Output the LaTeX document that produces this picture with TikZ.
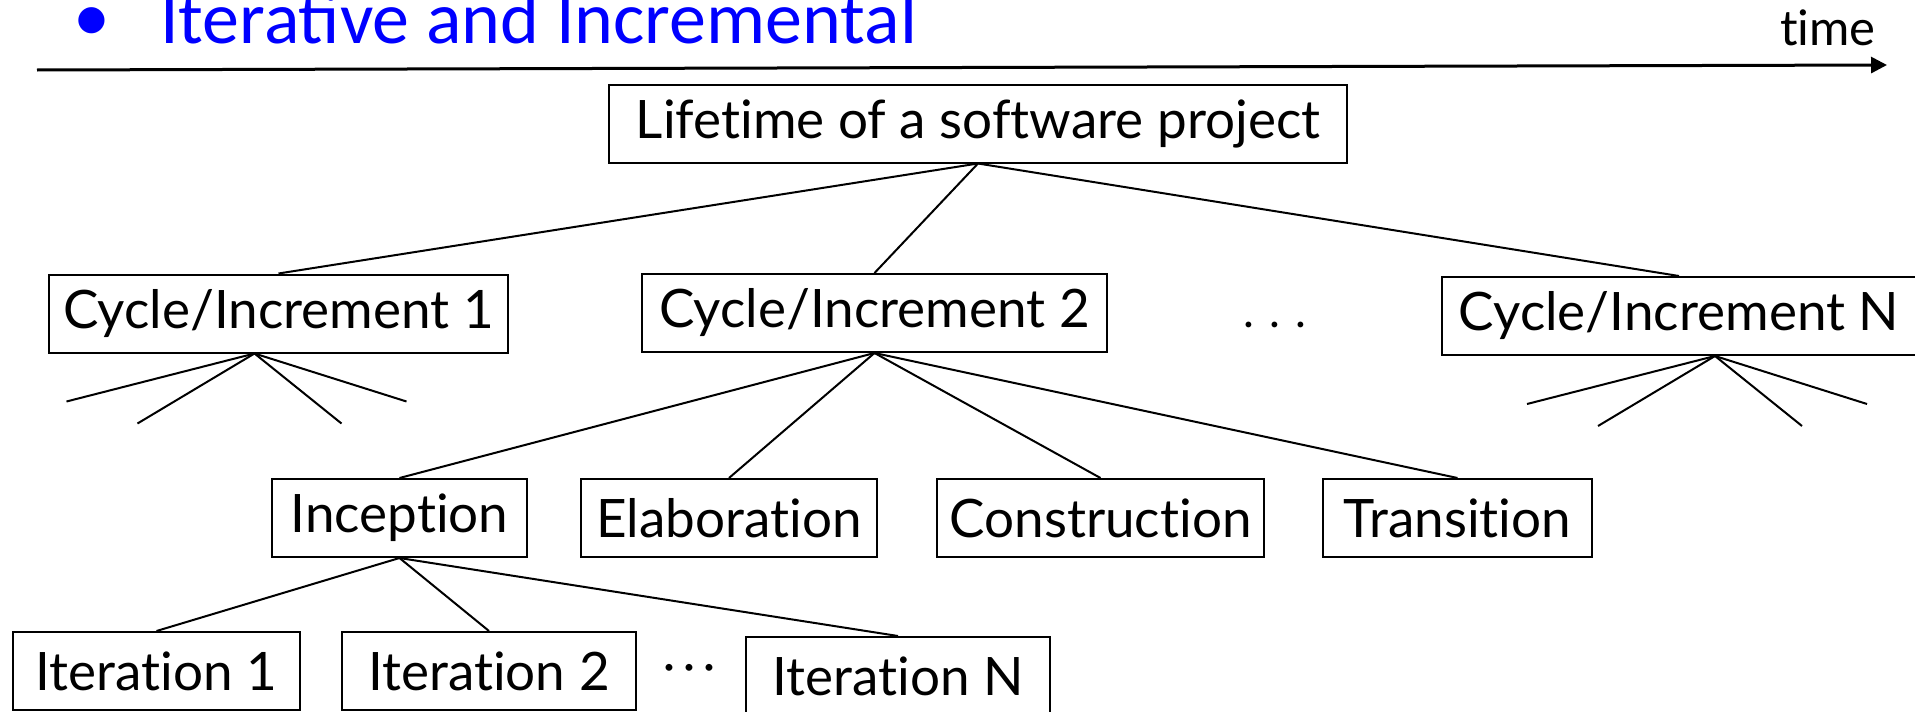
\documentclass[tikz,border=0pt]{standalone}
\usepackage{fontspec}
\setmainfont{Lato}[RawFeature={-liga;-calt;-dlig}]
\newfontfamily\headfont{Carlito}
\usetikzlibrary{arrows.meta,positioning}

\begin{document}
\begin{tikzpicture}[
      x=1pt,y=-1pt,
      mybox/.style={
         rectangle,
         draw=black,
         line width=2pt,
         inner sep=0pt,
         minimum height=78pt,
         font=\fontsize{53}{56}\selectfont},
      myline/.style={line width=2pt},
      myarrow/.style={-{Triangle[length=16pt,width=16pt]},line width=3pt},
      mytitle/.style={inner sep=0pt,text=blue,font=\headfont\fontsize{74}{80}\selectfont}
      ]
      \useasboundingbox (0,0) rectangle (1915,712);

      % heading and time axis
      \node[mytitle,anchor=base] (bullet) at (92,41) {•};
      \node[mytitle,anchor=base west] (head) at (160,43) {Iterative and Incremental};
      \coordinate (t0) at (37,70);
      \coordinate (t1) at (1887,65);
      \draw[myarrow] (t0) -- (t1);
      \node[anchor=base east,inner sep=0pt,font=\fontsize{49}{52}\selectfont] (timelbl) at (1876,45) {time};

      % the tree
      \node[mybox,minimum width=738pt] (life) at (978,123.5) {Lifetime of a software project};

      \node[mybox,minimum width=459pt] (cyc1) at (278.5,313.5) {Cycle/Increment 1};
      \node[mybox,minimum width=465pt] (cyc2) at (874.5,313) {Cycle/Increment 2};
      \node[anchor=base,font=\fontsize{46}{50}\selectfont] (dots1) at (1275,327) {.\,\,.\,\,.};
      \node[mybox,minimum width=474pt] (cycN) at (1679,316) {Cycle/Increment N};

      \node[mybox,minimum width=255pt] (incep) at (399.5,518) {Inception};
      \node[mybox,minimum width=296pt] (elab) at (729,518) {Elaboration};
      \node[mybox,minimum width=327pt] (constr) at (1100.5,518) {Construction};
      \node[mybox,minimum width=269pt] (trans) at (1457.5,518) {Transition};

      \node[mybox,minimum width=287pt] (it1) at (156.5,671) {Iteration 1};
      \node[mybox,minimum width=294pt] (it2) at (489,671) {Iteration 2};
      \node[font=\fontsize{46}{50}\selectfont] (dots2) at (689.5,673) {·\,·\,·};
      \node[mybox,minimum width=304pt] (itN) at (898,676) {Iteration N};

    \foreach \i/\j in {% parent/child
      life/cyc1, life/cyc2, life/cycN,
      cyc2/incep, cyc2/elab, cyc2/constr, cyc2/trans,
      incep/it1, incep/it2, incep/itN}
       \draw[myline] (\i.south) -- (\j.north);

    % open fans under the first and last cycle
    \coordinate (fan1) at ([xshift=-24pt]cyc1.south);
    \coordinate (fanN) at ([xshift=36pt]cycN.south);
    \foreach \f in {fan1,fanN}
      \foreach \k/\dx/\dy in {a/-188/48,b/-117/70,c/87/70,d/152/48}
        {\coordinate (\f\k) at ([shift={(\dx,\dy)}]\f);
         \draw[myline] (\f) -- (\f\k);}

    \end{tikzpicture}
\end{document}
